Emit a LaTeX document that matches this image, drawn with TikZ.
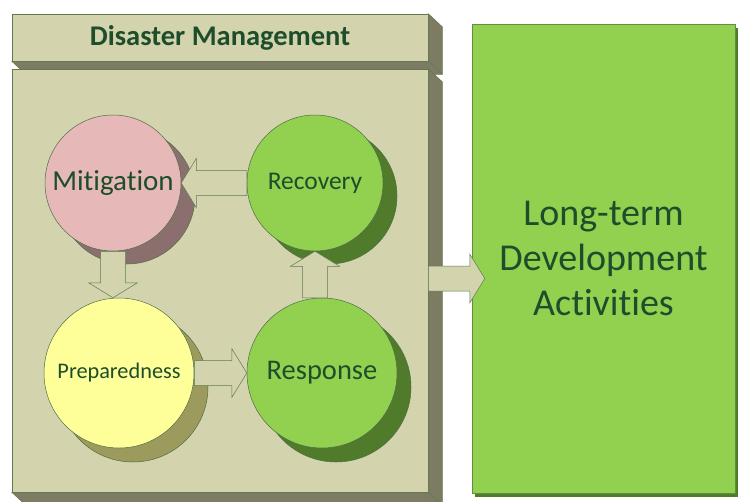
\documentclass[tikz,border=0pt]{standalone}
\usepackage{fontspec}
\setmainfont{Carlito}[Ligatures=NoCommon]
\usetikzlibrary{calc,shadows}

\definecolor{slab}{HTML}{D3D3AD}
\definecolor{slabdark}{HTML}{7D7B62}
\definecolor{slabline}{HTML}{5E7A55}
\definecolor{txtgreen}{HTML}{1E4D2B}
\definecolor{circline}{HTML}{4E6E48}
\definecolor{mitfill}{HTML}{E6B9B8}
\definecolor{mitshade}{HTML}{8B6E6E}
\definecolor{prepfill}{HTML}{FFFF99}
\definecolor{prepshade}{HTML}{9C9A5C}
\definecolor{leaf}{HTML}{92D050}
\definecolor{leafshade}{HTML}{4F7B2A}
\definecolor{leafline}{HTML}{5E8E3E}

\tikzset{
  slab/.style={draw=slabline, fill=slab, line width=0.5pt, inner sep=0pt},
  slabside/.style={fill=slabdark, draw=slabline, line width=0.5pt},
  phase/.style={circle, draw=circline, line width=0.5pt, inner sep=0pt, text=txtgreen},
  blockarr/.style={fill=slab, draw=slabline, line width=0.5pt, line join=miter},
}

% block arrow from one point to another
\newcommand\blockarrow[2]{%
  \draw[blockarr] let \p1=(#1), \p2=(#2),
    \n1={atan2(\y2-\y1,\x2-\x1)}, \n2={veclen(\x2-\x1,\y2-\y1)} in
    {[shift={(\p1)}, rotate=\n1]
      (0,-12.5) -- (\n2-15,-12.5) -- (\n2-15,-24.5) -- (\n2,0)
      -- (\n2-15,24.5) -- (\n2-15,12.5) -- (0,12.5) -- cycle};}

\begin{document}
\begin{tikzpicture}[x=1pt, y=-1pt]
    \useasboundingbox (0,0) rectangle (738,501);

    % Disaster management title bar
    \node[slab, minimum width=416, minimum height=47] (tb) at (220,37.5) {};
    \filldraw[slabside] (tb.north east) -- ++(14,13) -- ($(tb.south east)+(14,13)$)
        -- ($(tb.south west)+(14,13)$) -- (tb.south west) -- (tb.south east) -- cycle;
    \draw[slabline, line width=0.5pt] (tb.south east) -- ++(14,13);
    \node[text=txtgreen, font=\bfseries\fontsize{28.5}{32}\selectfont] (tbtext) at (tb.center) {Disaster Management};

    % Panel holding the cycle
    \node[slab, minimum width=416, minimum height=423] (dm) at (220,280.5) {};
    \filldraw[slabside] (dm.north east) -- ++(14,13) -- ($(dm.south east)+(14,13)$)
        -- ($(dm.south west)+(14,13)$) -- (dm.south west) -- (dm.south east) -- cycle;
    \draw[slabline, line width=0.5pt] (dm.south east) -- ++(14,13);

    % The four phases
    \node[phase, fill=mitfill, minimum size=136,
        general shadow={shadow xshift=14pt, shadow yshift=-13pt, fill=mitshade, draw=circline},
        font=\fontsize{29}{33}\selectfont] (mit) at (113,183) {Mitigation};
    \node[phase, fill=leaf, minimum size=136,
        general shadow={shadow xshift=14pt, shadow yshift=-13pt, fill=leafshade, draw=circline},
        font=\fontsize{25.5}{29}\selectfont] (rec) at (315,183) {Recovery};
    \node[phase, fill=prepfill, minimum size=150,
        general shadow={shadow xshift=14pt, shadow yshift=-14pt, fill=prepshade, draw=circline},
        font=\fontsize{22.3}{26}\selectfont] (prep) at (119,373) {Preparedness};
    \node[phase, fill=leaf, minimum size=150,
        general shadow={shadow xshift=14pt, shadow yshift=-14pt, fill=leafshade, draw=circline},
        font=\fontsize{28.5}{33}\selectfont] (resp) at (322,373) {Response};

    % Arrows round the cycle
    \blockarrow{rec.west}{mit.east}
    \blockarrow{mit.south}{mit.south |- prep.north}
    \blockarrow{prep.east}{resp.west}
    \blockarrow{rec.south |- resp.north}{rec.south}

    % Long-term box
    \node[draw=leafline, fill=leaf, line width=0.5pt, minimum width=263, minimum height=469,
        general shadow={shadow xshift=3pt, shadow yshift=-4pt, fill=leafshade},
        text=txtgreen, align=center, font=\fontsize{38}{45}\selectfont] (ltd) at (603.5,258.5)
        {Long-term\\Development\\Activities};

    \blockarrow{$(dm.east)+(0,-2)$}{$(ltd.west |- dm.east)+(13,-2)$}
\end{tikzpicture}
\end{document}
